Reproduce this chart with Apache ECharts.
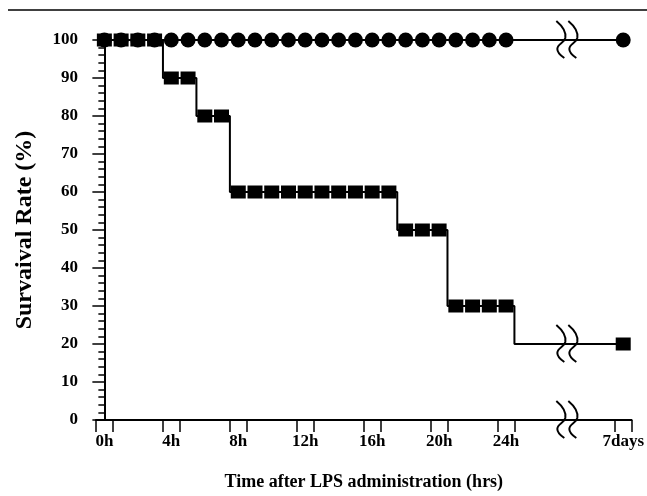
<!DOCTYPE html>
<html>
<head>
<meta charset="utf-8">
<script src="https://cdn.jsdelivr.net/npm/echarts@6/dist/echarts.min.js"></script>
<style>
html,body{margin:0;padding:0;background:#fff;}
#chart{width:647px;height:496px;}
</style>
</head>
<body>
<div id="chart"></div>
<script>
// ---- data ----
const hours = [0,1,2,3,4,5,6,7,8,9,10,11,12,13,14,15,16,17,18,19,20,21,22,23,24,31];
const treatedSurvival = [100,100,100,100,100,100,100,100,100,100,100,100,100,100,100,100,100,100,100,100,100,100,100,100,100,100];
const controlSurvival = [100,100,100,100,90,90,80,80,60,60,60,60,60,60,60,60,60,60,50,50,50,30,30,30,30,20];
const kmTimes = [0, 3.5, 5.5, 7.5, 17.5, 20.5, 24.5, 31];
const kmSurvival = [100, 90, 80, 60, 50, 30, 20, 20];
const tickHours = [0, 4, 8, 12, 16, 20, 24, 31];
const tickLabels = ['0h', '4h', '8h', '12h', '16h', '20h', '24h', '7days'];
const breakHour = 27.9;
const breakLevels = [100, 20, 0];

const FONT = 'Liberation Serif';
const chart = echarts.init(document.getElementById('chart'));

const tickPositions = [];
tickHours.forEach(h => { tickPositions.push(h - 0.5, h + 0.5); });

chart.setOption({
  animation: false,
  backgroundColor: '#fff',
  grid: {left: 96, right: 14, top: 40, bottom: 74},
  xAxis: {
    type: 'value', min: -0.5, max: 31.5,
    name: 'Time after LPS administration (hrs)',
    nameLocation: 'middle', nameGap: 53,
    nameTextStyle: {fontFamily: FONT, fontWeight: 'bold', fontSize: 18, color: '#000'},
    axisLine: {lineStyle: {color: '#000', width: 2}},
    axisTick: {show: true, length: 12, lineStyle: {color: '#000', width: 1.5}, customValues: tickPositions},
    axisLabel: {
      customValues: tickHours,
      formatter: v => { const i = tickHours.indexOf(Math.round(v)); return i >= 0 ? tickLabels[i] : ''; },
      fontFamily: FONT, fontWeight: 'bold', fontSize: 17, color: '#000', margin: 13
    },
    splitLine: {show: false}
  },
  yAxis: {
    type: 'value', min: 0, max: 100, interval: 10,
    name: 'Survaival Rate (%)',
    nameLocation: 'middle', nameGap: 59, nameRotate: 90,
    nameTextStyle: {fontFamily: FONT, fontWeight: 'bold', fontSize: 24, color: '#000'},
    axisLine: {show: true, lineStyle: {color: '#000', width: 2}},
    axisTick: {show: true, length: 12, lineStyle: {color: '#000', width: 1.5}},
    minorTick: {show: true, splitNumber: 5, length: 6, lineStyle: {color: '#000', width: 1.5}},
    axisLabel: {fontFamily: FONT, fontWeight: 'bold', fontSize: 17, color: '#000', margin: 18},
    splitLine: {show: false}
  },
  series: [
    {
      name: 'treated', type: 'line', z: 2,
      data: hours.map((h, i) => [h, treatedSurvival[i]]),
      symbol: 'circle', symbolSize: 15,
      itemStyle: {color: '#000', opacity: 1},
      lineStyle: {color: '#000', width: 2}
    },
    {
      name: 'control-curve', type: 'line', step: 'end', z: 3,
      data: kmTimes.map((t, i) => [t, kmSurvival[i]]),
      symbol: 'none',
      lineStyle: {color: '#000', width: 2}
    },
    {
      name: 'control', type: 'scatter', z: 4,
      data: hours.map((h, i) => [h, controlSurvival[i]]),
      symbol: 'rect', symbolSize: [15, 13],
      itemStyle: {color: '#000', opacity: 1}
    }
  ]
});

// axis-break marks
const segs = [
  [-9, -19, -3, -14, 1, -8, 0, -2],
  [0, -2, -1, 3, -8, 4, -8, 9],
  [-8, 9, -8, 13, -4, 16, -1, 18]
];
const graphics = [{
  type: 'line', shape: {x1: 8, y1: 10, x2: 647, y2: 10},
  style: {stroke: '#000', lineWidth: 1.5}, z: 10
}];
breakLevels.forEach(lv => {
  const p = chart.convertToPixel({gridIndex: 0}, [breakHour, lv]);
  [-6, 6].forEach(dx => {
    const ox = p[0] + dx, oy = p[1];
    segs.forEach(s => {
      graphics.push({
        type: 'bezierCurve',
        shape: {x1: ox + s[0], y1: oy + s[1], cpx1: ox + s[2], cpy1: oy + s[3],
                cpx2: ox + s[4], cpy2: oy + s[5], x2: ox + s[6], y2: oy + s[7]},
        style: {fill: null, stroke: '#000', lineWidth: 2}, z: 10
      });
    });
  });
});
chart.setOption({graphic: graphics});
</script>
</body>
</html>
